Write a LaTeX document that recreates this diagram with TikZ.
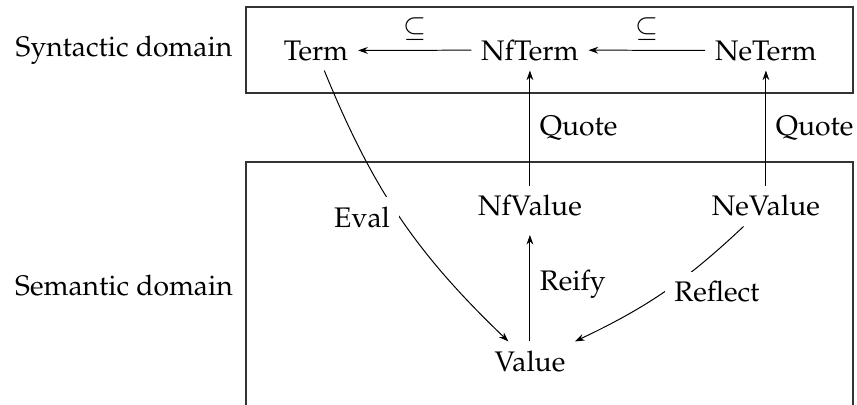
\documentclass[tikz,border=0pt]{standalone}
\usepackage[T1]{fontenc}
\usepackage{mathpazo}
\usepackage{tikz}
\usetikzlibrary{matrix,arrows.meta}

\begin{document}
\begin{tikzpicture}[x=0.3534pt, y=-0.3534pt, line width=0.35pt,
  >={Stealth[length=3.4pt,width=2.4pt]},
  domainbox/.style={draw=black!80, line width=0.5pt},
  gaplabel/.style={fill=white}]
\clip (0,0) rectangle (857,405);
\draw[domainbox] (246,7) rectangle (853,93);
\draw[domainbox] (246,162) rectangle (853,430);
\node[anchor=base] (syn) at (124,57) {Syntactic domain};
\node[anchor=base] (sem) at (124,295) {Semantic domain};
\matrix (m) [matrix of nodes, nodes={anchor=base},
  column sep={75.6pt,between origins}, row sep={55.1pt,between origins},
  matrix anchor=m-1-1.base] at (316,60)
{
	Term & NfTerm &[7.8pt] NeTerm \\
	     & NfValue & NeValue \\
	     & Value   & \\
};
\path[->]
(m-1-2) edge node [above] {$\subseteq$} (m-1-1)
(m-1-3) edge node [above] {$\subseteq$} (m-1-2)
(m-2-2) edge node [right] {Quote} (m-1-2)
(m-2-3) edge node [right] {Quote} (m-1-3)
(m-3-2) edge [shorten >=3pt] node [right] {Reify} (m-2-2)
(m-1-1) edge [bend right=12] node [gaplabel, left] {Eval} (m-3-2)
(m-2-3) edge [bend left=9] node [gaplabel, right] {Reflect} (m-3-2)
;
\end{tikzpicture}
\end{document}
